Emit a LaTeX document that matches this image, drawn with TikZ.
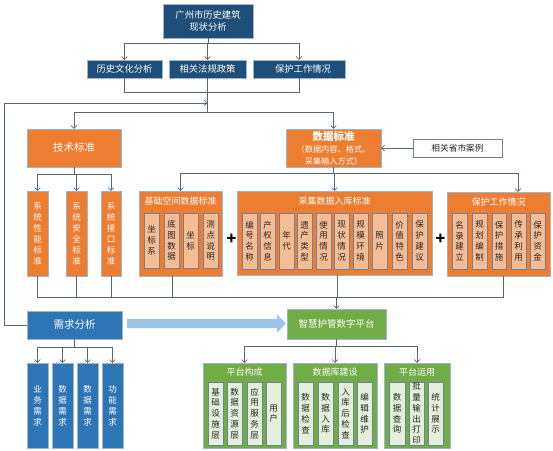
\documentclass[tikz,border=0pt]{standalone}
\usepackage{fontspec}
\setmainfont{Noto Sans CJK SC}
\usetikzlibrary{arrows.meta}
\definecolor{dblue}{HTML}{1F4E79}
\definecolor{orng}{HTML}{ED7D31}
\definecolor{lorng}{HTML}{F6BD95}
\definecolor{mblue}{HTML}{2E75B6}
\definecolor{grn}{HTML}{70AD47}
\definecolor{lgrn}{HTML}{E2EFDA}
\definecolor{bord}{HTML}{9FB4CF}
\definecolor{ibord}{HTML}{6F819B}
\definecolor{cline}{HTML}{56667C}
\definecolor{larrow}{HTML}{9DC3E6}
\definecolor{itext}{HTML}{262626}
\tikzset{
  base/.style={draw=bord, line width=0.9pt, inner sep=0pt, outer sep=0pt, align=center},
  dbox/.style={base, fill=dblue, text=white, font=\fontsize{9.3}{12}\selectfont},
  obox/.style={base, fill=orng, text=white, font=\fontsize{10.5}{12}\selectfont},
  ovbox/.style={base, fill=orng, text=white, font=\fontsize{8.5}{11}\selectfont},
  ocont/.style={base, fill=orng},
  oin/.style={draw=ibord, line width=0.7pt, inner sep=0pt, outer sep=0pt, align=center, fill=lorng, text=itext, font=\fontsize{8.5}{10.8}\selectfont},
  gin/.style={oin, fill=lgrn},
  bbox/.style={base, fill=mblue, text=white, font=\fontsize{10.5}{12}\selectfont},
  bvbox/.style={base, fill=mblue, text=white, font=\fontsize{8.5}{11}\selectfont},
  gbox/.style={base, fill=grn, text=white, font=\fontsize{9.5}{12}\selectfont},
  gcont/.style={base, fill=grn},
  wbox/.style={base, draw=ibord, fill=white, text=itext, font=\fontsize{8.7}{11}\selectfont},
  ttl/.style={text=white, inner sep=0pt, font=\fontsize{9}{11}\selectfont},
  plus/.style={inner sep=0pt, text=black, font=\fontsize{16}{16}\selectfont\bfseries},
  cn/.style={draw=cline, line width=0.7pt},
  arr/.style={cn, -{Straight Barb[length=3pt,width=5.5pt]}},
}
\newcommand\mkbox[6]{\node[#1,minimum width={(#4-#2)*1pt},minimum height={(#5-#3)*1pt}] (#6) at ({(#2+#4)/2},{(#3+#5)/2})}
\begin{document}
\begin{tikzpicture}[x=1pt,y=-1pt]
\useasboundingbox (0,0) rectangle (553,450);
% ---------- top ----------
\mkbox{dbox}{163}{4}{253}{38}{top}{广州市历史建筑\\现状分析};
\mkbox{dbox}{87}{60}{162}{78}{r1}{历史文化分析};
\mkbox{dbox}{169}{60}{246}{78}{r2}{相关法规政策};
\mkbox{dbox}{253}{60}{345}{78}{r3}{\hspace*{8pt}保护工作情况};
\coordinate (h1) at (0,43);
\coordinate (h2) at (0,92);
\coordinate (h3) at (0,112);
\coordinate (fb) at (4,103);
\draw[cn] (top.south) -- (top.south |- h1);
\draw[cn] (r1.north |- h1) -- (r3.north |- h1);
\draw[arr] (r1.north |- h1) -- (r1.north);
\draw[arr] (r2.north |- h1) -- (r2.north);
\draw[arr] (r3.north |- h1) -- (r3.north);
\draw[cn] (r1.south) -- (r1.south |- h2) -- (r3.south |- h2) -- (r3.south);
\draw[cn] (r2.south) -- (r2.south |- h3);
% ---------- standards ----------
\mkbox{obox}{27}{129}{121}{167}{tech}{技术标准};
\mkbox{obox}{286}{129}{381}{167}{data}{{\fontsize{10.5}{12}\selectfont\bfseries 数据标准}\\{\fontsize{8.2}{11.5}\selectfont （数据内容、格式、}\\{\fontsize{8.2}{11.5}\selectfont 采集输入方式）}};
\mkbox{wbox}{413}{139}{502}{157}{case}{相关省市案例};
\draw[cn] (tech.north |- h3) -- (data.north |- h3);
\draw[arr] (tech.north |- h3) -- (tech.north);
\draw[arr] (data.north |- h3) -- (data.north);
\draw[arr] (case.west) -- (data.east |- case.west);
% tech subs
\mkbox{ovbox}{27}{191}{48}{276}{s1}{系\\统\\性\\能\\标\\准};
\mkbox{ovbox}{66}{191}{87}{276}{s2}{系\\统\\安\\全\\标\\准};
\mkbox{ovbox}{101}{191}{121}{276}{s3}{系\\统\\接\\口\\标\\准};
\coordinate (h4) at (0,174);
\draw[cn] (tech.south) -- (tech.south |- h4);
\draw[cn] (s1.north |- h4) -- (s3.north |- h4);
\draw[arr] (s1.north |- h4) -- (s1.north);
\draw[arr] (s2.north |- h4) -- (s2.north);
\draw[arr] (s3.north |- h4) -- (s3.north);
% data subs
\mkbox{ocont}{139}{191}{222}{276}{jc}{};
\node[ttl] (jct) at (180.5,201) {基础空间数据标准};
\mkbox{oin}{144}{213}{159}{268}{jc1}{坐\\标\\系};
\mkbox{oin}{164}{213}{179}{268}{jc2}{底\\图\\数\\据};
\mkbox{oin}{183}{213}{198}{268}{jc3}{坐\\标};
\mkbox{oin}{203}{213}{218}{268}{jc4}{测\\点\\说\\明};
\node[plus] (p1) at (231.5,239) {+};
\mkbox{ocont}{237}{191}{432}{275}{cj}{};
\node[ttl] (cjt) at (334.5,201) {采集数据入库标准};
\mkbox{oin}{242}{213}{257}{269}{cj1}{编\\号\\名\\称};
\mkbox{oin}{260}{213}{275}{269}{cj2}{产\\权\\信\\息};
\mkbox{oin}{279}{213}{294}{269}{cj3}{年\\代};
\mkbox{oin}{297}{213}{312}{269}{cj4}{遗\\产\\类\\型};
\mkbox{oin}{316}{213}{331}{269}{cj5}{使\\用\\情\\况};
\mkbox{oin}{334}{213}{349}{269}{cj6}{现\\状\\情\\况};
\mkbox{oin}{353}{213}{368}{269}{cj7}{规\\模\\环\\境};
\mkbox{oin}{372}{213}{387}{269}{cj8}{照\\片};
\mkbox{oin}{392}{213}{407}{269}{cj9}{价\\值\\特\\色};
\mkbox{oin}{412}{213}{427}{269}{cj10}{保\\护\\建\\议};
\node[plus] (p2) at (440.5,239) {+};
\mkbox{ocont}{447}{192}{550}{276}{pw}{};
\node[ttl] (pwt) at (498.5,202) {保护工作情况};
\mkbox{oin}{452}{213}{467}{269}{pw1}{名\\录\\建\\立};
\mkbox{oin}{472}{213}{487}{269}{pw2}{规\\划\\编\\制};
\mkbox{oin}{492}{213}{506}{269}{pw3}{保\\护\\措\\施};
\mkbox{oin}{511}{213}{526}{269}{pw4}{传\\承\\利\\用};
\mkbox{oin}{530}{213}{545}{269}{pw5}{保\\护\\资\\金};
\coordinate (h5) at (0,173);
\coordinate (pwa) at (518,0);
\draw[cn] (data.south) -- (data.south |- h5);
\draw[cn] (jc.north |- h5) -- (pwa |- h5);
\draw[arr] (jc.north |- h5) -- (jc.north);
\draw[arr] (cj.north |- h5) -- (cj.north);
\draw[arr] (pwa |- h5) -- (pwa |- pw.north);
% ---------- collection line ----------
\coordinate (h6) at (0,297);
\coordinate (jcb) at (172,0);
\coordinate (cjb) at (337,0);
\coordinate (pwb) at (503,0);
\draw[cn] (s1.south) -- (s1.south |- h6) -- (pwb |- h6) -- (pwb |- pw.south);
\draw[cn] (s2.south) -- (s2.south |- h6);
\draw[cn] (s3.south) -- (s3.south |- h6);
\draw[cn] (jcb |- jc.south) -- (jcb |- h6);
\draw[cn] (cjb |- cj.south) -- (cjb |- h6);
% ---------- demand ----------
\mkbox{bbox}{27}{311}{122}{339}{xq}{需求分析};
\draw[arr] (xq.west) -| (fb) -- (r2.south |- fb);
\mkbox{bvbox}{27}{363}{48}{448}{q1}{业\\务\\需\\求};
\mkbox{bvbox}{52}{363}{73}{448}{q2}{数\\据\\需\\求};
\mkbox{bvbox}{77}{363}{98}{448}{q3}{数\\据\\需\\求};
\mkbox{bvbox}{102}{363}{123}{448}{q4}{功\\能\\需\\求};
\coordinate (h7) at (0,347);
\draw[cn] (xq.south) -- (xq.south |- h7);
\draw[cn] (q1.north |- h7) -- (q4.north |- h7);
\draw[arr] (q1.north |- h7) -- (q1.north);
\draw[arr] (q2.north |- h7) -- (q2.north);
\draw[arr] (q3.north |- h7) -- (q3.north);
\draw[arr] (q4.north |- h7) -- (q4.north);
% ---------- platform ----------
\mkbox{gbox}{287}{309}{386}{339}{pt}{智慧护管数字平台};
\draw[arr] (pt.north |- h6) -- (pt.north);
\fill[larrow] (127,319) -- (277,319) -- (277,314.5) -- (286,323.5) -- (277,332.5) -- (277,328) -- (127,328) -- cycle;
\mkbox{gcont}{203}{363}{286}{448}{pg}{};
\node[ttl] (pgt) at (244.5,372.5) {平台构成};
\mkbox{gin}{208}{382}{223}{445}{pg1}{基\\础\\设\\施\\层};
\mkbox{gin}{227}{382}{242}{445}{pg2}{数\\据\\资\\源\\层};
\mkbox{gin}{247}{382}{262}{445}{pg3}{应\\用\\服\\务\\层};
\mkbox{gin}{266}{382}{281}{445}{pg4}{用\\户};
\mkbox{gcont}{293}{363}{377}{448}{db}{};
\node[ttl] (dbt) at (335,372.5) {数据库建设};
\mkbox{gin}{298}{382}{313}{445}{db1}{数\\据\\检\\查};
\mkbox{gin}{318}{382}{333}{445}{db2}{数\\据\\入\\库};
\mkbox{gin}{338}{382}{353}{445}{db3}{入\\库\\后\\检\\查};
\mkbox{gin}{357}{382}{372}{445}{db4}{编\\辑\\维\\护};
\mkbox{gcont}{384}{363}{450}{448}{pu}{};
\node[ttl] (put) at (417,372.5) {平台运用};
\mkbox{gin}{389}{382}{405}{445}{pu1}{数\\据\\查\\询};
\mkbox{gin}{409}{382}{424}{445}{pu2}{\fontsize{8.5}{10}\selectfont 批\\量\\输\\出\\打\\印};
\mkbox{gin}{428}{382}{443}{445}{pu3}{统\\计\\展\\示};
\coordinate (h8) at (0,346);
\draw[cn] (pt.south) -- (pt.south |- h8);
\draw[cn] (pg.north |- h8) -- (pu.north |- h8);
\draw[arr] (pg.north |- h8) -- (pg.north);
\draw[arr] (db.north |- h8) -- (db.north);
\draw[arr] (pu.north |- h8) -- (pu.north);
\end{tikzpicture}
\end{document}
